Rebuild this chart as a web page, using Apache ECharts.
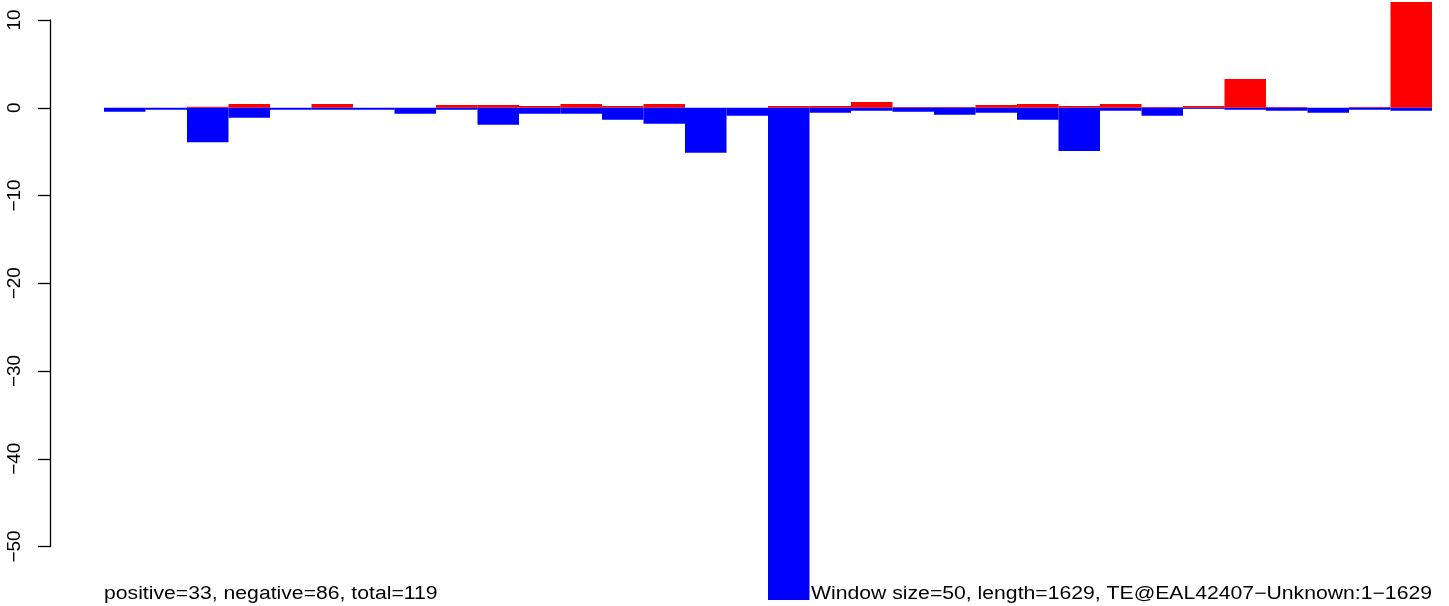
<!DOCTYPE html>
<html>
<head>
<meta charset="utf-8">
<script src="https://cdn.jsdelivr.net/npm/echarts@6/dist/echarts.min.js"></script>
<style>
  html, body { margin: 0; padding: 0; background: #ffffff; }
  #chart { width: 1449px; height: 606px; }
</style>
</head>
<body>
<div id="chart"></div>
<script>
// Window index (window size = 50 over length 1629)
const categories = ['1','2','3','4','5','6','7','8','9','10','11','12','13','14','15','16',
                    '17','18','19','20','21','22','23','24','25','26','27','28','29','30','31','32'];
// Positive score per window (red)
const positiveValues = [0, 0, 0.12, 0.42, 0, 0.42, 0, 0, 0.31, 0.31, 0.19, 0.42, 0.19, 0.42, 0, 0,
                        0.19, 0.19, 0.65, 0.08, 0.08, 0.31, 0.42, 0.19, 0.42, 0.08, 0.19, 3.27, 0.08, 0, 0.08, 12.05];
// Negative score per window (blue)
const negativeValues = [-0.45, -0.22, -3.92, -1.14, -0.22, -0.22, -0.22, -0.68, -0.22, -1.93, -0.68, -0.68, -1.36, -1.82, -5.13, -0.91,
                        -56.1, -0.57, -0.34, -0.45, -0.79, -0.57, -1.36, -4.93, -0.34, -0.91, -0.11, -0.22, -0.34, -0.57, -0.22, -0.34];
// Y axis ticks
const yMin = -50, yMax = 10, yStep = 10;
// Footer texts
const leftNote = 'positive=33, negative=86, total=119';
const rightNote = 'Window size=50, length=1629, TE@EAL42407\u2212Unknown:1\u22121629';

const chart = echarts.init(document.getElementById('chart'), null, { renderer: 'canvas' });
const FONT = '"Liberation Sans", Arial, Helvetica, sans-serif';

chart.setOption({
  animation: false,
  backgroundColor: '#ffffff',
  grid: { left: 104, right: 17, top: 20, bottom: 59.5, containLabel: false, outerBoundsMode: 'none' },
  xAxis: {
    type: 'category',
    data: categories,
    show: false,
    boundaryGap: true
  },
  yAxis: {
    type: 'value',
    min: yMin, max: yMax, interval: yStep,
    offset: 54,
    splitLine: { show: false },
    axisLine: { show: true, onZero: false, lineStyle: { color: '#000', width: 1.3 } },
    axisTick: { show: true, inside: false, length: 12, lineStyle: { color: '#000', width: 1.3 } },
    axisLabel: {
      show: true, rotate: 90, margin: 26,
      color: '#000', fontSize: 19, fontFamily: FONT,
      formatter: v => String(v).replace('-', '\u2212')
    }
  },
  series: [
    {
      name: 'positive',
      type: 'bar',
      data: positiveValues,
      barWidth: '100%',
      barGap: '-100%',
      clip: false,
      itemStyle: { color: '#ff0000' },
      markLine: {
        silent: true, symbol: 'none', z: 1,
        label: { show: false },
        lineStyle: { color: '#a8a8a8', width: 1, type: 'solid' },
        data: [{ yAxis: 0 }]
      }
    },
    {
      name: 'negative',
      type: 'bar',
      data: negativeValues,
      barWidth: '100%',
      barGap: '-100%',
      clip: false,
      itemStyle: { color: '#0000ff' }
    }
  ],
  graphic: [
    {
      type: 'text', x: 104, y: 603, scaleX: 1.177,
      style: { text: leftNote, font: '18px ' + FONT, fill: '#000', align: 'left', verticalAlign: 'bottom' }
    },
    {
      type: 'text', x: 1432, y: 603, scaleX: 1.177,
      style: { text: rightNote, font: '18px ' + FONT, fill: '#000', align: 'right', verticalAlign: 'bottom' }
    }
  ]
});
</script>
</body>
</html>
